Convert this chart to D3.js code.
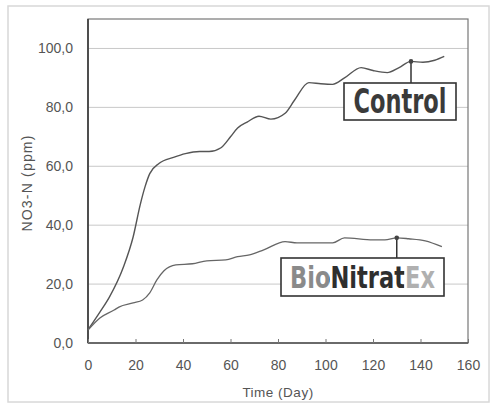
<!DOCTYPE html>
<html>
<head>
<meta charset="utf-8">
<script src="https://cdn.jsdelivr.net/npm/d3@7"></script>
<style>
body{margin:0;background:#fff;}
svg text{font-family:"Liberation Sans",Arial,sans-serif;}
</style>
</head>
<body>
<div id="chart"></div>
<script>
// days / NO3-N readings
var controlDays=[0,5,9,15,19,22,24,26,30,36,41,47,51,56,60,63,67,72,77,83,87,93,98,103,108,115,120,126,131,136,141,146,150];
var controlVals=[4.5,10.5,15.6,26,36,47,53,57.5,61,63,64.3,65,65,66.3,70,73,75,77,76,78,82.5,88.4,88,87.8,90,93.5,92.5,91.8,93.5,95.6,95.3,96,97.3];
var bioDays=[0,5,11,13,19,23,26,29,32,37,44,50,58,63,68,74,83,88,97,103,108,120,125,130,135,142,149];
var bioVals=[4.4,8.5,11.2,12.2,13.6,14.6,17,21.4,24.5,26.5,26.9,27.9,28.2,29.3,29.9,31.6,34.4,34,34,34,35.7,35,35,35.7,35.4,34.7,32.7];
var xTicks=[0,20,40,60,80,100,120,140,160];
var yTicks=[0,20,40,60,80,100];
var controlMark=136, bioMark=130;

var W=495,H=406;
var svg=d3.select("#chart").append("svg").attr("width",W).attr("height",H);
var defs=svg.append("defs");

// outer frame
svg.append("rect").attr("x",8).attr("y",6).attr("width",481).attr("height",396)
    .attr("fill","none").attr("stroke","#d8d8d8").attr("stroke-width",1.5);

var x=d3.scaleLinear().domain([0,160]).range([88,468]);
var y=d3.scaleLinear().domain([0,110]).range([343,19]);

// grid
svg.selectAll(".grid").data(yTicks.slice(1)).enter().append("line")
    .attr("x1",x(0)).attr("x2",x(160))
    .attr("y1",function(d){return y(d)}).attr("y2",function(d){return y(d)})
    .attr("stroke","#c8c8c8").attr("stroke-width",1);

// plot border
svg.append("rect").attr("x",x(0)).attr("y",y(110)).attr("width",x(160)-x(0)).attr("height",y(0)-y(110))
    .attr("fill","none").attr("stroke","#777").attr("stroke-width",1.2);
svg.append("line").attr("x1",x(0)).attr("x2",x(0)).attr("y1",y(110)).attr("y2",y(0))
    .attr("stroke","#444").attr("stroke-width",1.8);
svg.append("line").attr("x1",x(0)).attr("x2",x(160)).attr("y1",y(0)).attr("y2",y(0))
    .attr("stroke","#555").attr("stroke-width",1.5);

// axes
var xAxis=svg.append("g").attr("transform","translate(0,"+y(0)+")")
    .call(d3.axisBottom(x).tickValues(xTicks).tickSize(-4).tickPadding(17));
var yAxis=svg.append("g").attr("transform","translate("+x(0)+",0)")
    .call(d3.axisLeft(y).tickValues(yTicks).tickSize(0).tickPadding(15)
        .tickFormat(function(d){return d3.format(".1f")(d).replace(".",",")}));
[xAxis,yAxis].forEach(function(g){
    g.select(".domain").remove();
    g.selectAll("line").attr("stroke","#777");
    g.selectAll("text").attr("fill","#555").style("font-size","14px");
});

svg.append("text").attr("transform","translate(32,"+183+") rotate(-90)")
    .attr("text-anchor","middle").attr("fill","#555").style("font-size","14px")
    .style("letter-spacing","1.2px").text("NO3-N (ppm)");
svg.append("text").attr("x",(x(0)+x(160))/2).attr("y",397)
    .attr("text-anchor","middle").attr("fill","#555").style("font-size","13.5px")
    .style("letter-spacing","0.5px").text("Time (Day)");

// lines
var line=d3.line().x(function(d){return x(d[0])}).y(function(d){return y(d[1])}).curve(d3.curveMonotoneX);
svg.append("path").datum(d3.zip(controlDays,controlVals)).attr("d",line)
    .attr("fill","none").attr("stroke","#555").attr("stroke-width",1.4);
svg.append("path").datum(d3.zip(bioDays,bioVals)).attr("d",line)
    .attr("fill","none").attr("stroke","#666").attr("stroke-width",1.3);

// callouts; parts = [text, colour, width] -> one text, coloured by a hard-stop gradient
function callout(id,day,days,vals,bx,by,bw,bh,fs,parts){
    var v=vals[days.indexOf(day)];
    svg.append("line").attr("x1",x(day)).attr("x2",x(day)).attr("y1",y(v)).attr("y2",by)
        .attr("stroke","#333").attr("stroke-width",1.5);
    svg.append("circle").attr("cx",x(day)).attr("cy",y(v)).attr("r",2.3).attr("fill","#444");
    svg.append("rect").attr("x",bx).attr("y",by).attr("width",bw).attr("height",bh)
        .attr("fill","#fff").attr("stroke","#333").attr("stroke-width",1.6);
    var total=d3.sum(parts,function(p){return p[2]});
    var x0=bx+(bw-total)/2;
    var grad=defs.append("linearGradient").attr("id",id).attr("gradientUnits","userSpaceOnUse")
        .attr("x1",x0).attr("x2",x0+total).attr("y1",0).attr("y2",0);
    var acc=0;
    parts.forEach(function(p){
        grad.append("stop").attr("offset",acc/total).attr("stop-color",p[1]);
        acc+=p[2];
        grad.append("stop").attr("offset",acc/total).attr("stop-color",p[1]);
    });
    svg.append("text").attr("x",x0).attr("y",by+bh/2+fs*0.36)
        .attr("textLength",total).attr("lengthAdjust","spacingAndGlyphs")
        .style("font-family","'DejaVu Sans Condensed','Liberation Sans Narrow',sans-serif")
        .style("font-weight","bold").style("font-size",fs+"px")
        .attr("fill","url(#"+id+")").text(parts.map(function(p){return p[0]}).join(""));
}
callout("gc",controlMark,controlDays,controlVals,344,83,112,37,33,[["Control","#3a3a3a",93]]);
callout("gb",bioMark,bioDays,bioVals,281,258,163,38,30,[["Bio","#8a8a8a",39],["Nitrat","#2e2e2e",75],["Ex","#b0b0b0",31]]);
</script>
</body>
</html>
